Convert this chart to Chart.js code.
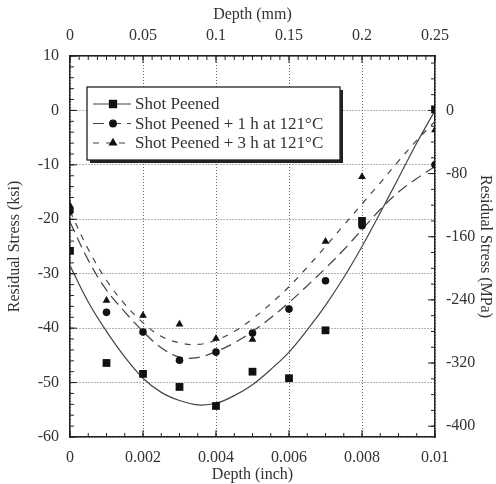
<!DOCTYPE html>
<html>
<head>
<meta charset="utf-8">
<script src="https://cdn.jsdelivr.net/npm/chart.js@4.4.1/dist/chart.umd.min.js"></script>
<style>
  html, body { margin: 0; padding: 0; background: #fff; }
</style>
</head>
<body>
<canvas id="chart" width="496" height="484"></canvas>
<script>
// measured points (depth in inch, stress in ksi)
const depthInch = [0, 0.001, 0.002, 0.003, 0.004, 0.005, 0.006, 0.007, 0.008, 0.01];
const shotPeened = [-25.8, -46.4, -48.4, -50.8, -54.3, -48.0, -49.2, -40.4, -20.3, 0.2];
const peened1h = [-18.5, -37.1, -40.7, -45.9, -44.4, -40.9, -36.5, -31.3, -21.2, -10.0];
const depth3h = [0, 0.001, 0.002, 0.003, 0.004, 0.005, 0.007, 0.008, 0.01];
const peened3h = [-17.5, -34.9, -37.7, -39.3, -41.9, -42.1, -24.1, -12.2, -3.6];

// fitted curves
const fitDepth = [0, 0.0005, 0.001, 0.0015, 0.002, 0.0025, 0.003, 0.0035, 0.004, 0.0045, 0.005,
  0.0055, 0.006, 0.0065, 0.007, 0.0075, 0.008, 0.0085, 0.009, 0.0095, 0.01];
const fitShot = [-28.5, -35.2, -40.6, -45.3, -49.2, -51.8, -53.3, -54.1, -53.8, -52.4, -50.4,
  -47.6, -44.4, -40.3, -35.8, -30.7, -25.0, -18.8, -12.4, -6.0, 0];
const fit1h = [-20.5, -27.5, -33.0, -37.0, -40.6, -43.6, -45.3, -45.4, -44.3, -42.7, -40.6,
  -38.1, -35.3, -32.2, -29.0, -25.6, -21.9, -18.2, -15.0, -12.5, -10.3];
const fit3h = [-18.5, -25.5, -31.2, -35.6, -39.0, -41.5, -42.7, -43.0, -42.2, -40.6, -38.3,
  -35.5, -32.4, -28.8, -25.0, -21.1, -17.2, -13.3, -9.3, -5.5, -2.0];

const seriesLabels = ["Shot Peened", "Shot Peened + 1 h at 121\u00B0C", "Shot Peened + 3 h at 121\u00B0C"];

// axis ticks
const inchTicks = [0, 0.002, 0.004, 0.006, 0.008, 0.01];
const mmTicks = [0, 0.05, 0.1, 0.15, 0.2, 0.25];
const ksiTicks = [10, 0, -10, -20, -30, -40, -50, -60];
const mpaTicks = [0, -80, -160, -240, -320, -400];

const KSI_TO_MPA = 6.89476;
const FONT = "'Liberation Serif', 'Times New Roman', serif";
const INK = "#222";
const CURVE = "#444";

const pts = (xs, ys) => xs.map((x, i) => ({ x: x, y: ys[i] }));
const fmt = v => String(Number(v.toFixed(4)));
const setTicks = list => scale => { scale.ticks = list.map(v => ({ value: v })); };

const dashes = [[], [11, 6], [6, 7]];
const markers = [
  { style: "rect", r: 5.5 },
  { style: "circle", r: 3.8 },
  { style: "triangle", r: 4.5 },
];

const minorTicks = {
  id: "minorTicks",
  afterDraw(chart) {
    const { ctx, chartArea: a, scales } = chart;
    ctx.save();
    ctx.strokeStyle = INK;
    ctx.lineWidth = 1;
    const run = (scale, from, to, step, len, side) => {
      const n = Math.round((to - from) / step);
      for (let i = 0; i <= n; i++) {
        const p = scale.getPixelForValue(from + i * step);
        ctx.beginPath();
        if (side === "bottom") { ctx.moveTo(p, a.bottom); ctx.lineTo(p, a.bottom - len); }
        if (side === "top") { ctx.moveTo(p, a.top); ctx.lineTo(p, a.top + len); }
        if (side === "left") { ctx.moveTo(a.left, p); ctx.lineTo(a.left + len, p); }
        if (side === "right") { ctx.moveTo(a.right, p); ctx.lineTo(a.right - len, p); }
        ctx.stroke();
      }
    };
    run(scales.x, 0, 0.01, 0.0005, 4, "bottom");
    run(scales.x, 0, 0.01, 0.002, 7, "bottom");
    run(scales.x2, 0, 0.25, 0.00625, 4, "top");
    run(scales.x2, 0, 0.25, 0.05, 7, "top");
    run(scales.y, -60, 10, 2, 4, "left");
    run(scales.y, -60, 10, 10, 7, "left");
    run(scales.y2, -400, 60, 20, 4, "right");
    run(scales.y2, -400, 0, 80, 7, "right");
    ctx.restore();
  }
};

const boxLegend = {
  id: "boxLegend",
  afterDatasetsDraw(chart) {
    const { ctx, chartArea: a } = chart;
    const x = a.left + 17, y = a.top + 31, w = 253, h = 73;
    ctx.save();
    ctx.fillStyle = INK;
    ctx.fillRect(x + 3, y + 3, w, h);
    ctx.fillStyle = "#fff";
    ctx.fillRect(x, y, w, h);
    ctx.strokeStyle = INK;
    ctx.lineWidth = 1.3;
    ctx.strokeRect(x, y, w, h);
    ctx.font = "17px " + FONT;
    ctx.textBaseline = "middle";
    seriesLabels.forEach((label, i) => {
      const ry = y + 17 + i * 19.5;
      ctx.strokeStyle = CURVE;
      ctx.lineWidth = 1.2;
      ctx.setLineDash(dashes[i]);
      ctx.beginPath();
      ctx.moveTo(x + 6, ry);
      ctx.lineTo(x + 44, ry);
      ctx.stroke();
      ctx.setLineDash([]);
      ctx.fillStyle = "#111";
      ctx.strokeStyle = "#111";
      Chart.helpers.drawPoint(ctx, { pointStyle: markers[i].style, radius: markers[i].r - 0.5, borderWidth: 1, rotation: 0 }, x + 26, ry);
      ctx.fillStyle = "#333";
      ctx.fillText(label, x + 48, ry + 1);
    });
    ctx.restore();
  }
};

const axisFont = { family: FONT, size: 16 };
const border = { display: true, color: INK, width: 1.5, dash: [1, 2] };

const data = {
  datasets: [
    { label: seriesLabels[0], data: pts(depthInch, shotPeened), showLine: false, order: 1,
      pointStyle: "rect", pointRadius: markers[0].r, backgroundColor: "#111", borderColor: "#111", borderWidth: 0 },
    { label: seriesLabels[1], data: pts(depthInch, peened1h), showLine: false, order: 1,
      pointStyle: "circle", pointRadius: markers[1].r, backgroundColor: "#111", borderColor: "#111", borderWidth: 0 },
    { label: seriesLabels[2], data: pts(depth3h, peened3h), showLine: false, order: 1,
      pointStyle: "triangle", pointRadius: markers[2].r, backgroundColor: "#111", borderColor: "#111", borderWidth: 0 },
    { label: "fit 0", data: pts(fitDepth, fitShot), showLine: true, pointRadius: 0, order: 2,
      borderColor: CURVE, borderWidth: 1.2, borderDash: dashes[0], tension: 0.4 },
    { label: "fit 1", data: pts(fitDepth, fit1h), showLine: true, pointRadius: 0, order: 2,
      borderColor: CURVE, borderWidth: 1.2, borderDash: dashes[1], tension: 0.4 },
    { label: "fit 2", data: pts(fitDepth, fit3h), showLine: true, pointRadius: 0, order: 2,
      borderColor: CURVE, borderWidth: 1.2, borderDash: dashes[2], tension: 0.4 },
  ],
};

const config = {
  type: "scatter",
  data: data,
  options: {
    responsive: false,
    animation: false,
    layout: { padding: 0 },
    plugins: { legend: { display: false }, tooltip: { enabled: false } },
    scales: {
      x: {
        type: "linear", position: "bottom", min: 0, max: 0.01,
        afterBuildTicks: setTicks(inchTicks),
        afterFit: s => { s.height = 47; },
        ticks: { callback: fmt, padding: 11, font: axisFont, color: "#333", maxRotation: 0, autoSkip: false },
        grid: { color: "#666", drawTicks: false, lineWidth: 1 },
        border: border,
        title: { display: true, text: "Depth (inch)", font: axisFont, color: "#333", padding: { top: 0, bottom: 0 } },
      },
      x2: {
        type: "linear", position: "top", min: 0, max: 0.25,
        afterBuildTicks: setTicks(mmTicks),
        afterFit: s => { s.height = 56; },
        ticks: { callback: fmt, padding: 11, font: axisFont, color: "#333", maxRotation: 0, autoSkip: false },
        grid: { display: false, drawTicks: false },
        border: border,
        title: { display: true, text: "Depth (mm)", font: axisFont, color: "#333", padding: { top: 5, bottom: 0 } },
      },
      y: {
        type: "linear", position: "left", min: -60, max: 10,
        afterBuildTicks: setTicks(ksiTicks),
        afterFit: s => { s.width = 70; },
        ticks: { callback: fmt, padding: 11, font: axisFont, color: "#333", autoSkip: false },
        grid: { color: "#666", drawTicks: false, lineWidth: 1 },
        border: border,
        title: { display: true, text: "Residual Stress (ksi)", font: axisFont, color: "#333", padding: { top: 5, bottom: 0 } },
      },
      y2: {
        type: "linear", position: "right", min: -60 * KSI_TO_MPA, max: 10 * KSI_TO_MPA,
        afterBuildTicks: setTicks(mpaTicks),
        afterFit: s => { s.width = 61; },
        ticks: { callback: fmt, padding: 11, font: axisFont, color: "#333", autoSkip: false },
        grid: { display: false, drawTicks: false },
        border: border,
        title: { display: true, text: "Residual Stress (MPa)", font: axisFont, color: "#333", padding: { top: 1, bottom: 0 } },
      },
    },
  },
  plugins: [boxLegend, minorTicks],
};

const StressChart = new Chart(document.getElementById("chart"), config);
</script>
</body>
</html>
